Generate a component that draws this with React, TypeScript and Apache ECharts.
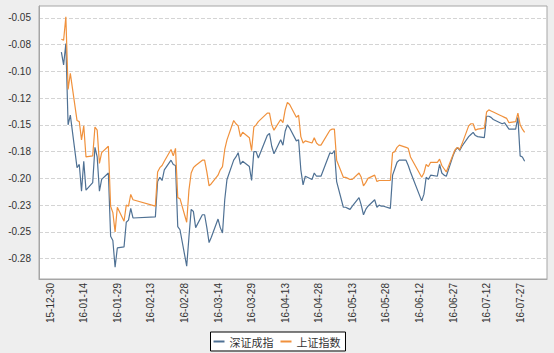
import React, { useEffect, useRef } from "react";
import * as echarts from "echarts";

const tradeDates = [
  "16-01-04","16-01-05","16-01-06","16-01-07","16-01-08","16-01-11","16-01-12","16-01-13","16-01-14","16-01-15",
  "16-01-18","16-01-19","16-01-20","16-01-21","16-01-22","16-01-25","16-01-26","16-01-27","16-01-28","16-01-29",
  "16-02-01","16-02-02","16-02-03","16-02-04","16-02-05","16-02-15","16-02-16","16-02-17","16-02-18","16-02-19",
  "16-02-22","16-02-23","16-02-24","16-02-25","16-02-26","16-02-29",
  "16-03-01","16-03-02","16-03-03","16-03-04","16-03-07","16-03-08","16-03-09","16-03-10","16-03-11","16-03-14",
  "16-03-15","16-03-16","16-03-17","16-03-18","16-03-21","16-03-22","16-03-23","16-03-24","16-03-25","16-03-28",
  "16-03-29","16-03-30","16-03-31",
  "16-04-01","16-04-05","16-04-06","16-04-07","16-04-08","16-04-11","16-04-12","16-04-13","16-04-14","16-04-15",
  "16-04-18","16-04-19","16-04-20","16-04-21","16-04-22","16-04-25","16-04-26","16-04-27","16-04-28","16-04-29",
  "16-05-03","16-05-04","16-05-05","16-05-06","16-05-09","16-05-10","16-05-11","16-05-12","16-05-13","16-05-16",
  "16-05-17","16-05-18","16-05-19","16-05-20","16-05-23","16-05-24","16-05-25","16-05-26","16-05-27","16-05-30","16-05-31",
  "16-06-01","16-06-02","16-06-03","16-06-06","16-06-07","16-06-08","16-06-13","16-06-14","16-06-15","16-06-16",
  "16-06-17","16-06-20","16-06-21","16-06-22","16-06-23","16-06-24","16-06-27","16-06-28","16-06-29","16-06-30",
  "16-07-01","16-07-04","16-07-05","16-07-06","16-07-07","16-07-08","16-07-11","16-07-12","16-07-13","16-07-14",
  "16-07-15","16-07-18","16-07-19","16-07-20","16-07-21","16-07-22","16-07-25","16-07-26","16-07-27","16-07-28","16-07-29",
];

const szcz = [
  -0.082,-0.094,-0.074,-0.150,-0.141,-0.190,-0.187,-0.212,-0.184,-0.211,-0.204,-0.171,-0.180,-0.212,-0.201,-0.195,-0.254,-0.258,-0.283,-0.265,
  -0.264,-0.241,-0.239,-0.228,-0.237,-0.236,-0.203,-0.199,-0.202,-0.192,-0.183,-0.187,-0.188,-0.245,-0.248,-0.282,
  -0.255,-0.229,-0.231,-0.246,-0.234,-0.234,-0.246,-0.260,-0.255,-0.238,-0.246,-0.251,-0.220,-0.201,-0.183,-0.180,-0.176,-0.187,-0.184,-0.189,-0.202,-0.175,-0.175,
  -0.181,-0.160,-0.158,-0.170,-0.177,-0.164,-0.169,-0.156,-0.150,-0.153,-0.165,-0.164,-0.192,-0.206,-0.198,-0.201,-0.195,-0.198,-0.198,-0.198,
  -0.176,-0.177,-0.174,-0.203,-0.227,-0.227,-0.228,-0.229,-0.226,-0.218,-0.225,-0.234,-0.229,-0.226,-0.220,-0.227,-0.225,-0.226,-0.226,-0.228,-0.197,
  -0.191,-0.185,-0.183,-0.183,-0.188,-0.194,-0.221,-0.215,-0.199,-0.201,-0.197,-0.198,-0.187,-0.195,-0.197,-0.198,-0.179,-0.174,-0.171,-0.174,
  -0.170,-0.161,-0.159,-0.157,-0.160,-0.161,-0.162,-0.142,-0.142,-0.143,-0.145,-0.148,-0.149,-0.148,-0.151,-0.154,-0.154,-0.143,-0.179,-0.180,-0.184,
];

const szzs = [
  -0.070,-0.071,-0.049,-0.117,-0.102,-0.146,-0.147,-0.164,-0.151,-0.180,-0.179,-0.152,-0.155,-0.186,-0.176,-0.170,-0.226,-0.232,-0.250,-0.227,
  -0.240,-0.225,-0.226,-0.215,-0.220,-0.226,-0.194,-0.190,-0.188,-0.184,-0.173,-0.179,-0.172,-0.218,-0.219,-0.241,
  -0.211,-0.195,-0.190,-0.188,-0.183,-0.183,-0.194,-0.207,-0.205,-0.197,-0.192,-0.189,-0.173,-0.164,-0.146,-0.149,-0.151,-0.161,-0.157,-0.162,-0.174,-0.152,-0.150,
  -0.147,-0.139,-0.139,-0.150,-0.155,-0.145,-0.148,-0.136,-0.129,-0.131,-0.143,-0.141,-0.161,-0.167,-0.165,-0.167,-0.162,-0.167,-0.169,-0.169,
  -0.155,-0.154,-0.154,-0.183,-0.199,-0.199,-0.200,-0.201,-0.201,-0.195,-0.199,-0.207,-0.204,-0.200,-0.197,-0.203,-0.202,-0.202,-0.202,-0.202,-0.176,
  -0.175,-0.171,-0.169,-0.171,-0.172,-0.180,-0.199,-0.195,-0.187,-0.189,-0.185,-0.185,-0.182,-0.188,-0.191,-0.194,-0.178,-0.173,-0.171,-0.173,
  -0.168,-0.151,-0.149,-0.149,-0.155,-0.154,-0.153,-0.138,-0.136,-0.137,-0.138,-0.141,-0.142,-0.143,-0.144,-0.148,-0.147,-0.139,-0.150,-0.154,-0.157,
];

const seriesNames = ["深证成指", "上证指数"];
const xTickLabels = [
  "15-12-30","16-01-14","16-01-29","16-02-13","16-02-28","16-03-14","16-03-29","16-04-13",
  "16-04-28","16-05-13","16-05-28","16-06-12","16-06-27","16-07-12","16-07-27",
];
const yTickValues = [-0.275, -0.25, -0.225, -0.2, -0.175, -0.15, -0.125, -0.1, -0.075, -0.05];
const yTickLabels = ["-0.28", "-0.25", "-0.23", "-0.20", "-0.18", "-0.15", "-0.12", "-0.10", "-0.08", "-0.05"];

const axisStart = "2015-12-25";
const axisEnd = "2016-08-08";

function buildCalendar(): string[] {
  const out: string[] = [];
  const d = new Date(axisStart + "T00:00:00Z");
  const end = new Date(axisEnd + "T00:00:00Z");
  while (d.getTime() <= end.getTime()) {
    const yy = String(d.getUTCFullYear()).slice(2);
    const mm = String(d.getUTCMonth() + 1).padStart(2, "0");
    const dd = String(d.getUTCDate()).padStart(2, "0");
    out.push(`${yy}-${mm}-${dd}`);
    d.setUTCDate(d.getUTCDate() + 1);
  }
  return out;
}

export default function App() {
  const ref = useRef<HTMLDivElement>(null);
  useEffect(() => {
    if (!ref.current) return;
    const chart = echarts.init(ref.current, null, { renderer: "svg" });
    const calendar = buildCalendar();
    const align = (vals: number[]) => {
      const m = new Map<string, number>();
      tradeDates.forEach((d, i) => m.set(d, vals[i]));
      return calendar.map((c) => (m.has(c) ? (m.get(c) as number) : null));
    };
    const labelSet = new Set(xTickLabels);
    chart.setOption({
      animation: false,
      backgroundColor: "#eeeeee",
      textStyle: { fontFamily: "Arial, 'Liberation Sans', sans-serif" },
      grid: {
        left: 39,
        right: 7,
        top: 6,
        bottom: 74,
        show: true,
        backgroundColor: "#ffffff",
        borderColor: "#a6a6a6",
        borderWidth: 1,
      },
      legend: {
        data: seriesNames,
        left: "center",
        bottom: 2,
        orient: "horizontal",
        backgroundColor: "#ffffff",
        borderColor: "#000000",
        borderWidth: 1,
        borderRadius: 0,
        padding: [4, 5, 4, 3],
        itemGap: 7,
        itemWidth: 11,
        itemHeight: 2,
        icon: "rect",
        textStyle: { fontSize: 11, color: "#333", fontFamily: "'Noto Sans CJK SC', sans-serif" },
      },
      xAxis: {
        type: "category",
        data: calendar,
        boundaryGap: false,
        axisLine: { show: true, lineStyle: { color: "#a6a6a6" } },
        axisTick: { show: false },
        splitLine: { show: false },
        axisLabel: {
          interval: (_i: number, v: string) => labelSet.has(v),
          rotate: 90,
          fontSize: 10,
          color: "#333",
          margin: 4,
        },
      },
      yAxis: {
        type: "value",
        min: -0.294,
        max: -0.039,
        axisLine: { show: true, lineStyle: { color: "#a6a6a6" } },
        axisTick: { show: false, customValues: yTickValues },
        axisLabel: {
          customValues: yTickValues,
          fontSize: 10,
          color: "#333",
          margin: 8,
          formatter: (v: number) => {
            const i = yTickValues.findIndex((t) => Math.abs(t - v) < 1e-6);
            return i >= 0 ? yTickLabels[i] : "";
          },
        },
        splitLine: { show: true, lineStyle: { color: "#d4d4d4", type: "dashed", width: 1 } },
      },
      series: [
        {
          name: seriesNames[0],
          type: "line",
          data: align(szcz),
          connectNulls: true,
          showSymbol: false,
          symbol: "none",
          lineStyle: { color: "#4f7194", width: 1.2 },
          itemStyle: { color: "#4f7194" },
        },
        {
          name: seriesNames[1],
          type: "line",
          data: align(szzs),
          connectNulls: true,
          showSymbol: false,
          symbol: "none",
          lineStyle: { color: "#f0913c", width: 1.2 },
          itemStyle: { color: "#f0913c" },
        },
      ],
    });
    return () => chart.dispose();
  }, []);
  return (
    <div
      ref={ref}
      style={{ position: "fixed", left: 0, top: 0, width: 554, height: 353 }}
    />
  );
}
